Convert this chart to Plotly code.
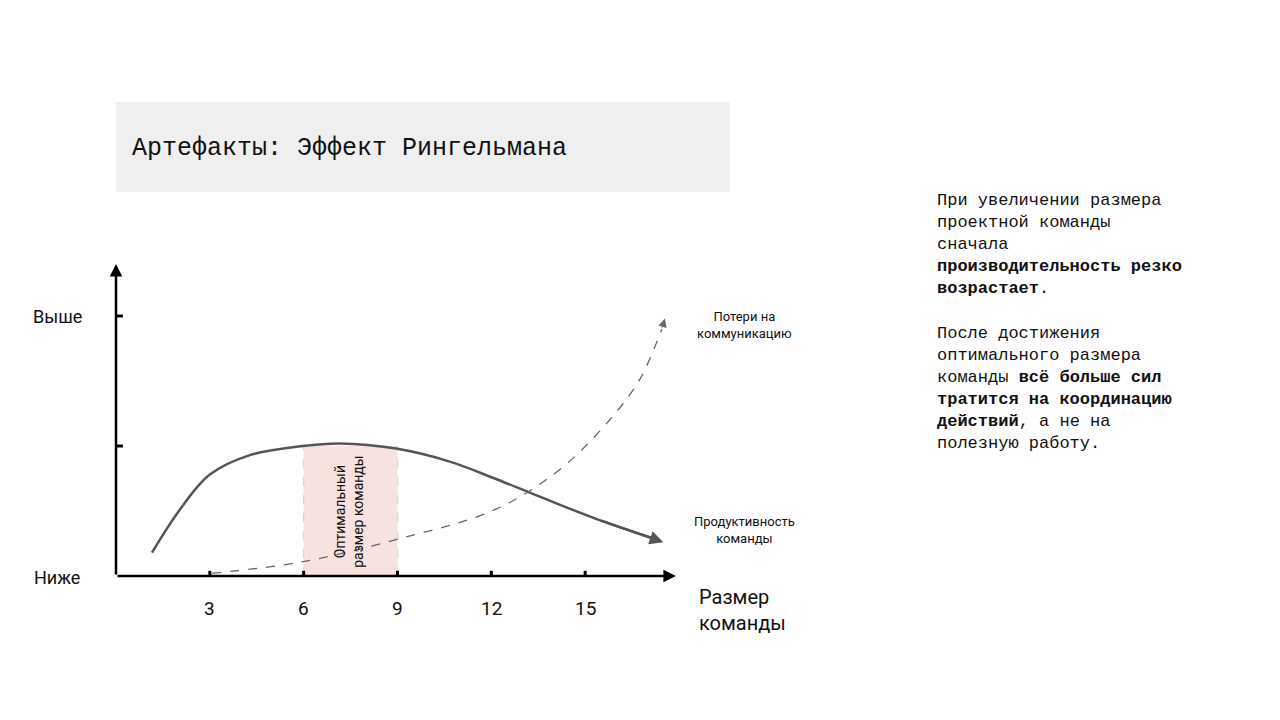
import plotly.graph_objects as go

# productivity curve (solid)
prod_x = [1.15, 2.04, 3.0, 4.28, 5.97, 7.16, 8.95, 10.67, 12.11, 13.55, 15.46, 17.3]
prod_y = [0.18, 0.51, 0.78, 0.93, 1.0, 1.02, 0.98, 0.88, 0.75, 0.61, 0.43, 0.28]
# communication losses (dashed)
loss_x = [3.07, 5.97, 8.95, 12.11, 14.19, 15.78, 16.74, 17.45]
loss_y = [0.02, 0.11, 0.28, 0.51, 0.82, 1.2, 1.51, 1.9]

x_ticks = [3, 6, 9, 12, 15]
x_labels = ["3", "6", "9", "12", "15"]
y_ticks = [1, 2]
optimal = [6, 9]

W, H = 1280, 720
OFF = 8  # page offset of the browser
L, B = 116 - OFF, 576 - OFF
XU, YU = 31.3, 130.0
XR, YR = [0, 18], [0, 2.4]

def px(x):
    return (x - OFF - L) / (XR[1] * XU)

def py(y):
    return (B - (y - OFF)) / (YR[1] * YU)

fig = go.Figure()
fig.add_trace(go.Scatter(x=prod_x, y=prod_y, mode="lines", line=dict(color="#555555", width=2.5, shape="spline"), hoverinfo="skip"))
fig.add_trace(go.Scatter(x=loss_x, y=loss_y, mode="lines", line=dict(color="#666666", width=1.3, dash="dash", shape="spline"), hoverinfo="skip"))

# optimal region
fig.add_shape(type="rect", x0=optimal[0], x1=optimal[1], y0=0, y1=1.0, fillcolor="#f8e2df", line_width=0, layer="below")
for xv in optimal:
    fig.add_shape(type="line", x0=xv, x1=xv, y0=0, y1=1.0, line=dict(color="#d8d8d8", width=1.5, dash="dash"), layer="below")

# ticks
for xv in x_ticks:
    fig.add_shape(type="line", x0=xv, x1=xv, y0=-0.04, y1=0.04, line=dict(color="black", width=3))
for yv in y_ticks:
    fig.add_shape(type="line", x0=-0.22, x1=0.22, y0=yv, y1=yv, line=dict(color="black", width=3))

ann = []
# axes arrows
ann.append(dict(x=17.9, y=0, ax=0, ay=0, xref="x", yref="y", axref="x", ayref="y", showarrow=True, arrowhead=2, arrowsize=1, arrowwidth=2.5, arrowcolor="black", text=""))
ann.append(dict(x=0, y=2.4, ax=0, ay=0, xref="x", yref="y", axref="x", ayref="y", showarrow=True, arrowhead=2, arrowsize=1, arrowwidth=2.5, arrowcolor="black", text=""))
# curve arrowheads
ann.append(dict(x=17.5, y=0.26, ax=prod_x[-2], ay=prod_y[-2], xref="x", yref="y", axref="x", ayref="y", showarrow=True, arrowhead=2, arrowsize=1.1, arrowwidth=2.5, arrowcolor="#555555", text="", standoff=0))
ann.append(dict(x=17.55, y=1.98, ax=17.45, ay=1.9, xref="x", yref="y", axref="x", ayref="y", showarrow=True, arrowhead=2, arrowsize=1.3, arrowwidth=1.3, arrowcolor="#666666", text=""))

for xv, lab in zip(x_ticks, x_labels):
    ann.append(dict(x=xv, y=py(608), xref="x", yref="paper", text=lab, showarrow=False, xanchor="center", yanchor="middle", font=dict(size=19, color="#111", family="Roboto")))

def txt(x, y, t, size, xanchor="center", family="Roboto", **kw):
    d = dict(x=px(x), y=py(y), xref="paper", yref="paper", text=t, showarrow=False,
             xanchor=xanchor, yanchor="middle", font=dict(size=size, color="#111", family=family))
    d.update(kw)
    ann.append(d)

txt(57, 316, "Выше", 18)
txt(57, 577, "Ниже", 18)
txt(697, 610, "Размер<br>команды", 20, xanchor="left", align="left")
txt(745, 325, "Потери на<br>коммуникацию", 13, align="center")
txt(745, 530, "Продуктивность<br>команды", 13, align="center")
txt(349, 511, "Оптимальный<br>размер команды", 14, textangle=-90, align="center")
txt(130, 148, "Артефакты: Эффект Рингельмана", 25, xanchor="left", family="Liberation Mono")
txt(936, 322,
    "При увеличении размера<br>проектной команды<br>сначала<br><b>производительность резко<br>возрастает</b>."
    "<br><br>После достижения<br>оптимального размера<br>команды <b>всё больше сил<br>тратится на координацию<br>действий</b>, а не на<br>полезную работу.",
    17, xanchor="left", align="left", family="Liberation Mono")

fig.add_shape(type="rect", xref="paper", yref="paper", x0=px(116), x1=px(730), y0=py(192), y1=py(102), fillcolor="#efefef", line_width=0, layer="below")

fig.update_layout(
    width=W, height=H, showlegend=False, plot_bgcolor="white", paper_bgcolor="white",
    margin=dict(l=L, r=W - L - XR[1] * XU, b=H - B, t=B - YR[1] * YU, pad=0),
    xaxis=dict(range=XR, visible=False), yaxis=dict(range=YR, visible=False),
    annotations=ann,
)
fig.write_html("out.html")
